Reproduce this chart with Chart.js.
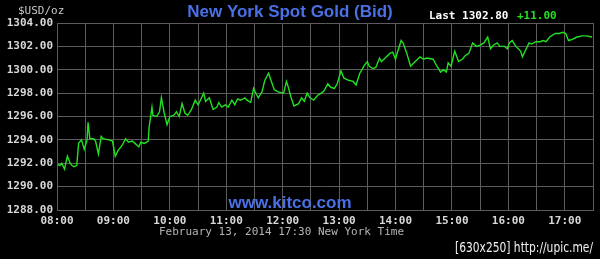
<!DOCTYPE html>
<html>
<head>
<meta charset="utf-8">
<script src="https://cdn.jsdelivr.net/npm/chart.js@4/dist/chart.umd.min.js"></script>
<style>
html,body{margin:0;padding:0;background:#000;}
#wrap{width:600px;height:259px;position:relative;}
</style>
</head>
<body>
<div id="wrap"><canvas id="c" width="600" height="259"></canvas></div>
<script>
// Minutes after 08:00 New York time
const minutes = [1,3,5,8,11,14,16,18,21,23,26,29,32,33,35,39,41,44,47,49,55,59,62,65,69,73,76,80,83,87,89,93,97,98,101,102,106,109,111,114,117,120,124,127,130,133,136,139,143,147,150,152,156,158,162,166,170,172,175,179,182,186,189,
192,195,198,200,202,206,209,212,214,218,221,225,228,231,235,241,244,246,249,252,257,260,263,266,269,273,277,281,284,288,291,295,298,302,305,310,315,318,322,327,330,332,336,339,343,345,349,354,357,360,362,366,368,372,376,
381,386,390,393,400,404,408,411,414,416,419,423,427,431,434,438,442,446,450,454,458,461,464,468,471,476,479,481,484,488,493,495,499,502,505,509,514,517,520,524,530,534,538,541,544,548,553,558,563,569];
const prices = [1291.9,1291.8,1292.0,1291.5,1292.6,1292.0,1291.8,1291.7,1291.8,1293.7,1294.0,1293.2,1294.0,1295.5,1294.1,1294.1,1293.9,1292.8,1294.3,1294.1,1294.0,1293.9,1292.6,1293.1,1293.5,1294.1,1293.8,1293.9,1293.7,1293.4,1293.8,1293.7,1293.9,1295.1,1296.8,1296.1,1296.0,1296.4,1297.6,1296.3,1295.3,1296.0,1296.1,1296.4,1296.0,1297.1,1296.3,1296.1,1296.6,1297.4,1297.0,1297.3,1298.0,1297.3,1297.6,1296.6,1296.8,1297.2,1296.8,1297.0,1296.8,1297.4,1297.0,
1297.5,1297.4,1297.5,1297.6,1297.4,1297.2,1298.4,1297.9,1297.6,1298.1,1299.1,1299.7,1299.0,1298.3,1298.1,1298.0,1299.0,1298.5,1297.6,1296.9,1297.1,1297.6,1297.3,1298.0,1297.6,1297.4,1297.8,1298.0,1298.2,1298.8,1298.5,1298.4,1298.8,1299.9,1299.3,1299.1,1299.0,1298.7,1299.7,1300.4,1300.7,1300.3,1300.1,1300.2,1301.0,1300.7,1301.0,1301.4,1301.5,1300.9,1301.5,1302.5,1302.3,1301.4,1300.3,
1300.7,1301.1,1300.9,1301.0,1300.9,1300.3,1299.8,1300.0,1299.8,1300.6,1300.3,1301.6,1300.7,1300.9,1301.2,1301.4,1302.3,1302.0,1302.1,1302.3,1302.8,1301.8,1302.1,1302.3,1302.0,1302.0,1301.8,1302.3,1302.5,1302.0,1301.6,1301.1,1301.8,1302.3,1302.2,1302.4,1302.4,1302.5,1302.4,1302.8,1303.1,1303.1,1303.2,1303.1,1302.5,1302.6,1302.8,1302.9,1302.9,1302.8];
const hourLabels = ['08:00','09:00','10:00','11:00','12:00','13:00','14:00','15:00','16:00','17:00'];
const yMin = 1288, yMax = 1304, yStep = 2;
const xMin = 0, xMax = 570, xStep = 30;
const lastText = 'Last 1302.80';
const changeText = '+11.00';

const GRID = '#5c5c5c';
const BLUE = '#4a70e6';
const GREEN = '#22e022';
const MONO = '"DejaVu Sans Mono", monospace';

const textPlugin = {
  id: 'texts',
  beforeDraw(chart) {
    const ctx = chart.ctx;
    ctx.save();
    ctx.fillStyle = '#000';
    ctx.fillRect(0, 0, chart.width, chart.height);
    ctx.restore();
  },
  afterDraw(chart) {
    const ctx = chart.ctx;
    ctx.save();
    ctx.textBaseline = 'middle';
    // unit
    ctx.font = '11px ' + MONO;
    ctx.fillStyle = '#c8c8c8';
    ctx.textAlign = 'left';
    ctx.fillText('$USD/oz', 18, 11);
    // title
    ctx.font = 'bold 17px "Liberation Sans", Arial, sans-serif';
    ctx.fillStyle = BLUE;
    ctx.textAlign = 'center';
    ctx.fillText('New York Spot Gold (Bid)', 290, 12);
    // last
    ctx.font = 'bold 11px ' + MONO;
    ctx.textAlign = 'left';
    ctx.fillStyle = '#ffffff';
    ctx.fillText(lastText, 429, 16);
    ctx.fillStyle = GREEN;
    ctx.fillText(changeText, 517, 16);
    // watermark
    ctx.font = 'bold 17px "Liberation Sans", Arial, sans-serif';
    ctx.fillStyle = BLUE;
    ctx.textAlign = 'center';
    ctx.fillText('www.kitco.com', 290, 203);
    // date
    ctx.font = '11px ' + MONO;
    ctx.fillStyle = '#b4b4b4';
    ctx.textAlign = 'left';
    ctx.fillText('February 13, 2014 17:30 New York Time', 159, 232);
    // upic
    ctx.font = '14px "DejaVu Sans", sans-serif';
    ctx.fillStyle = '#f0f0f0';
    ctx.textAlign = 'left';
    ctx.fillText('[630x250] http://upic.me/', 455, 248, 138);
    ctx.restore();
  }
};

const points = minutes.map((m, i) => ({x: m, y: prices[i]}));

new Chart(document.getElementById('c'), {
  type: 'line',
  data: {
    datasets: [{
      data: points,
      borderColor: GREEN,
      borderWidth: 1.4,
      pointRadius: 0,
      tension: 0,
      fill: false
    }]
  },
  options: {
    responsive: false,
    animation: false,
    devicePixelRatio: 1,
    layout: {padding: {left: 0, right: 7, top: 23, bottom: 29}},
    plugins: {legend: {display: false}, tooltip: {enabled: false}, title: {display: false}},
    scales: {
      x: {
        type: 'linear',
        min: xMin, max: xMax,
        afterFit(s) { s.height = 20; },
        ticks: {
          stepSize: xStep,
          autoSkip: false,
          maxRotation: 0,
          padding: 5,
          color: '#d8d8d8',
          font: {family: MONO, size: 11, weight: 'bold'},
          callback: v => (v % 60 === 0 ? hourLabels[v / 60] : '')
        },
        grid: {color: GRID, lineWidth: 1, drawTicks: false},
        border: {color: GRID, width: 1}
      },
      y: {
        min: yMin, max: yMax,
        afterFit(s) { s.width = 57; },
        ticks: {
          stepSize: yStep,
          padding: 4,
          color: '#d8d8d8',
          font: {family: MONO, size: 11, weight: 'bold'},
          callback: v => v.toFixed(2)
        },
        grid: {color: GRID, lineWidth: 1, drawTicks: false},
        border: {color: GRID, width: 1}
      }
    }
  },
  plugins: [textPlugin]
});
</script>
</body>
</html>
